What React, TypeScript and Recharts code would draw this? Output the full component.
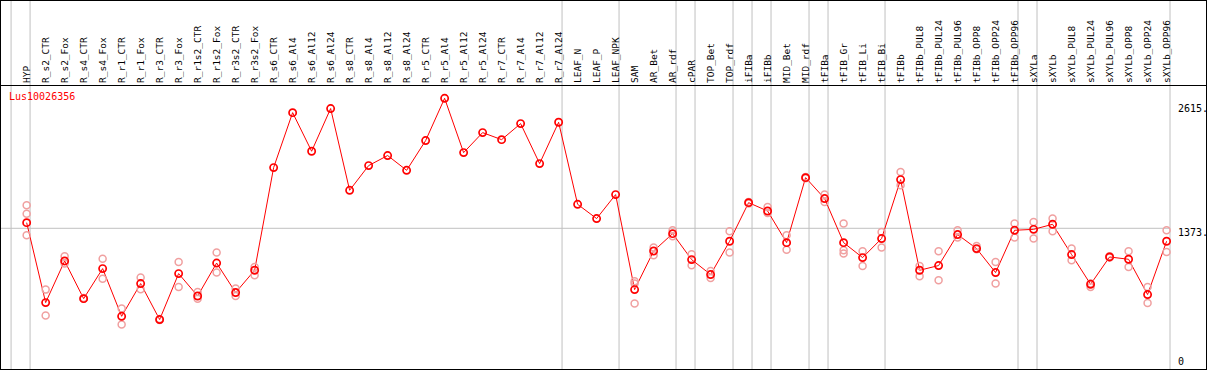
import React from 'react';
import { ComposedChart, Line, Scatter, XAxis, YAxis, ReferenceLine } from 'recharts';

const categories = [
  'HYP', 'R_s2_CTR', 'R_s2_Fox', 'R_s4_CTR', 'R_s4_Fox', 'R_r1_CTR', 'R_r1_Fox', 'R_r3_CTR', 'R_r3_Fox',
  'R_r1s2_CTR', 'R_r1s2_Fox', 'R_r3s2_CTR', 'R_r3s2_Fox', 'R_s6_CTR', 'R_s6_Al4', 'R_s6_Al12', 'R_s6_Al24',
  'R_s8_CTR', 'R_s8_Al4', 'R_s8_Al12', 'R_s8_Al24', 'R_r5_CTR', 'R_r5_Al4', 'R_r5_Al12', 'R_r5_Al24',
  'R_r7_CTR', 'R_r7_Al4', 'R_r7_Al12', 'R_r7_Al24', 'LEAF_N', 'LEAF_P', 'LEAF_NPK', 'SAM', 'AR_Bet', 'AR_rdf',
  'cPAR', 'TOP_Bet', 'TOP_rdf', 'iFIBa', 'iFIBb', 'MID_Bet', 'MID_rdf', 'tFIBa', 'tFIB_Gr', 'tFIB_Li', 'tFIB_Bi',
  'tFIBb', 'tFIBb_PUL8', 'tFIBb_PUL24', 'tFIBb_PUL96', 'tFIBb_OPP8', 'tFIBb_OPP24', 'tFIBb_OPP96', 'sXYLa',
  'sXYLb', 'sXYLb_PUL8', 'sXYLb_PUL24', 'sXYLb_PUL96', 'sXYLb_OPP8', 'sXYLb_OPP24', 'sXYLb_OPP96',
];

const means = [
  1427, 663, 1061, 701, 988, 532, 845, 501, 940, 726, 1041, 759, 972, 1953, 2478, 2109, 2517,
  1736, 1972, 2068, 1927, 2211, 2615, 2096, 2287, 2220, 2373, 1991, 2386, 1602, 1466, 1695, 787, 1156, 1322,
  1074, 931, 1249, 1618, 1538, 1236, 1857, 1657, 1236, 1093, 1275, 1838, 972, 1017, 1313, 1179, 950, 1354, 1363,
  1411, 1122, 838, 1099, 1077, 740, 1249,
];

// replicate measurements (null = not shown)
const rep1 = [
  1593, 787, 1105, 707, 1083, 606, 902, 507, 1051, 764, 1141, 797, 1003, null, null, null, null,
  null, null, null, null, null, null, null, null, null, null, null, null, null, null, null, 867, 1189, 1354,
  1125, 965, 1344, 1625, 1576, 1306, 1862, 1695, 1418, 1153, 1338, 1911, 1013, 1153, 1354, 1204, 1051, 1418, 1433,
  1466, 1179, 845, 1105, 1153, 812, 1354,
];
const rep2 = [
  1306, 539, 1036, 701, 892, 453, 790, 497, 812, 701, 950, 726, 924, null, null, null, null,
  null, null, null, null, null, null, null, null, null, null, null, null, null, null, null, 654, 1115, 1297,
  1019, 898, 1141, 1610, 1519, 1169, 1850, 1624, 1131, 1013, 1189, 1784, 914, 876, 1284, 1172, 845, 1284, 1275,
  1344, 1067, 812, 1093, 1003, 659, 1147,
];
const rep3 = [
  1513, null, null, null, null, null, null, null, null, null, null, null, null, null, null, null, null,
  null, null, null, null, null, null, null, null, null, null, null, null, null, null, null, 845, null, null,
  null, null, null, null, null, null, null, null, 1163, null, null, null, null, null, null, null, null, null, null,
  null, null, null, null, null, null, null,
];

// index of the last category in each group (separator lines)
const groupEnds = [-1, 0, 28, 31, 34, 35, 37, 38, 39, 41, 42, 45, 52, 53, 60];
const yTicks = [0, 1373, 2615];
const geneId = 'Lus10026356';

const data = categories.map((name, i) => ({ i, name, mean: means[i] }));
const repData = (arr: (number | null)[]) =>
  arr.map((v, i) => ({ i, v })).filter((d) => d.v !== null);

const MONO = '"DejaVu Sans Mono", monospace';
const PINK = '#f0a0a0';

// category names sit in the header band above the plot, rotated
const HeaderTick = (props: any) => {
  const { x, payload } = props;
  const bx = x + 3;
  const by = 83;
  return (
    <text x={bx} y={by} transform={`rotate(-90 ${bx} ${by})`} textAnchor="start"
      fontFamily={MONO} fontSize={9.5} fill="#000">
      {categories[payload.value]}
    </text>
  );
};

const tickDy: Record<number, number> = { 0: -7, 1373: 8, 2615: 14 };
const ValueTick = (props: any) => {
  const { x, y, payload } = props;
  return (
    <text x={x} y={y + (tickDy[payload.value] ?? 4)} textAnchor="start"
      fontFamily={MONO} fontSize={10} fill="#000">
      {payload.value === 0 ? '0' : `${payload.value}.`}
    </text>
  );
};

const MeanDot = (props: any) => {
  const { cx, cy } = props;
  if (cx == null || cy == null) return null;
  return <circle key={`m${props.index}`} cx={cx} cy={cy} r={3.6} fill="none" stroke="#ff0000" strokeWidth={1.7} />;
};

const RepDot = (props: any) => (
  <circle cx={props.cx} cy={props.cy} r={3.5} fill="none" stroke={PINK} strokeWidth={1.5} />
);

export default function App() {
  return (
    <div style={{ position: 'absolute', left: 0, top: 0, width: 1209, height: 370, overflow: 'hidden', background: '#fff' }}>
      <ComposedChart width={1209} height={373} data={data} margin={{ top: 0, right: 0, bottom: 0, left: 1 }}>
        <XAxis
          dataKey="i"
          type="number"
          orientation="bottom"
          domain={[-1.35, 60.18]}
          ticks={categories.map((_, i) => i)}
          interval={0}
          height={1}
          axisLine={false}
          tickLine={false}
          tick={<HeaderTick />}
        />
        <YAxis
          orientation="right"
          type="number"
          domain={[0, 3554]}
          ticks={yTicks}
          interval={0}
          width={39}
          axisLine={false}
          tickLine={false}
          tick={<ValueTick />}
        />
        {groupEnds.map((g) => (
          <ReferenceLine key={`g${g}`} x={g + 0.18} stroke="#c0c0c0" strokeWidth={1} />
        ))}
        <ReferenceLine y={1373} stroke="#c0c0c0" strokeWidth={1} />
        <Scatter data={repData(rep1)} dataKey="v" shape={<RepDot />} isAnimationActive={false} />
        <Scatter data={repData(rep2)} dataKey="v" shape={<RepDot />} isAnimationActive={false} />
        <Scatter data={repData(rep3)} dataKey="v" shape={<RepDot />} isAnimationActive={false} />
        <Line
          type="linear"
          dataKey="mean"
          stroke="#ff0000"
          strokeWidth={1}
          dot={<MeanDot />}
          activeDot={false}
          isAnimationActive={false}
        />
      </ComposedChart>
      <div style={{ position: 'absolute', left: 0, top: 85, width: 1207, height: 1, background: '#000' }} />
      <div style={{
        position: 'absolute', left: 0, top: 0, width: 1207, height: 370, boxSizing: 'border-box',
        border: '1px solid #000', pointerEvents: 'none',
      }} />
      <div style={{
        position: 'absolute', left: 9, top: 91, color: '#ff0000', fontFamily: MONO, fontSize: 10,
        lineHeight: '12px', whiteSpace: 'nowrap',
      }}>
        {geneId}
      </div>
    </div>
  );
}
